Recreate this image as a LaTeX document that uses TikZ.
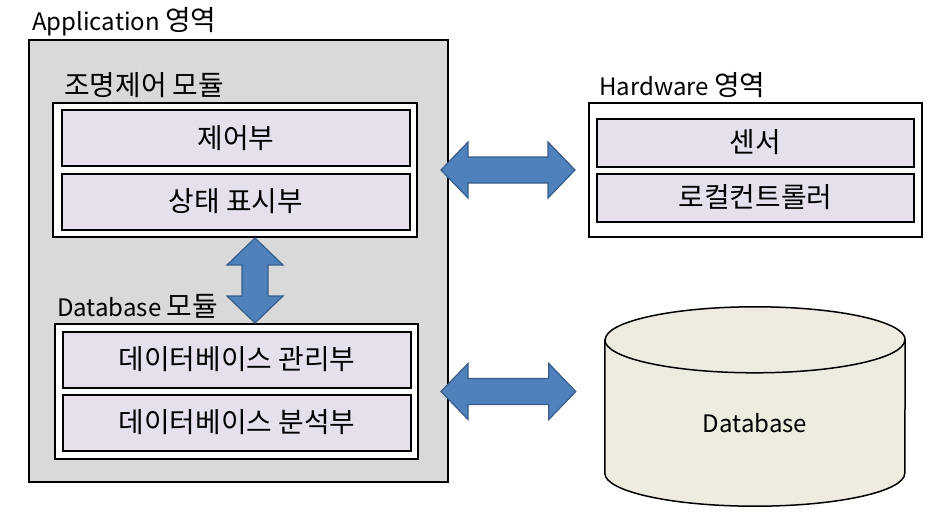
\documentclass[tikz,border=0pt]{standalone}
\usepackage{fontspec}
\setmainfont{Noto Sans CJK KR}
\newfontfamily\hangul{Noto Sans CJK KR}[Scale=1.16]
\usetikzlibrary{calc, backgrounds}
\definecolor{areagray}{HTML}{D9D9D9}
\definecolor{partfill}{HTML}{E5E0EC}
\definecolor{dbfill}{HTML}{EEECE1}
\definecolor{arrowblue}{HTML}{4F81BD}
\definecolor{arrowline}{HTML}{385D8A}

\begin{document}
\begin{tikzpicture}[x=1pt, y=-1pt, font=\fontsize{24}{28}\selectfont,
  box/.style 2 args={draw, line width=2pt, minimum width=#1, minimum height=#2, inner sep=0pt},
  part/.style={box={348}{56}, fill=partfill, font=\fontsize{24}{28}\selectfont\hangul},
  lbl/.style={anchor=west, inner sep=0pt},
  fatarrow/.style={draw=arrowline, fill=arrowblue, line width=1.2pt,
    to path={let \p1=(\tikztostart), \p2=(\tikztotarget),
      \n1={atan2(\y2-\y1,\x2-\x1)} in
      (\p1) -- ($(\p1)+(\n1:27pt)+(\n1+90:28pt)$)
      -- ($(\p1)+(\n1:27pt)+(\n1+90:13pt)$)
      -- ($(\p2)+(\n1+180:27pt)+(\n1+90:13pt)$)
      -- ($(\p2)+(\n1+180:27pt)+(\n1+90:28pt)$)
      -- (\p2)
      -- ($(\p2)+(\n1+180:27pt)+(\n1-90:28pt)$)
      -- ($(\p2)+(\n1+180:27pt)+(\n1-90:13pt)$)
      -- ($(\p1)+(\n1:27pt)+(\n1-90:13pt)$)
      -- ($(\p1)+(\n1:27pt)+(\n1-90:28pt)$)
      -- cycle}},
  dbend/.style={x radius=150pt, y radius=33pt}]
\useasboundingbox (0,0) rectangle (943,517);

\node[lbl] (applbl) at (32,22) {Application {\hangul 영역}};
\node[box={419}{442}, fill=areagray] (app) at (238.5,261) {};

\node[lbl, font=\fontsize{24}{28}\selectfont\hangul] (ctrllbl) at (64,85) {조명제어 모듈};
\node[box={364}{134}, fill=white] (ctrlmod) at (235,170) {};
\node[part] (ctrl) at (236,138) {제어부};
\node[part] (state) at (236,201.5) {상태 표시부};

\node[lbl] (dblbl) at (57,306) {Database {\hangul 모듈}};
\node[box={363}{135}, fill=white] (dbmod) at (236.5,391.5) {};
\node[part] (mgmt) at (237,359.5) {데이터베이스 관리부};
\node[part] (anal) at (237,422.5) {데이터베이스 분석부};

\node[lbl] (hwlbl) at (599,85) {Hardware {\hangul 영역}};
\node[box={333}{134}, fill=white] (hw) at (755.5,170) {};
\node[part, minimum width=317, minimum height=48] (sensor) at (755.5,142.5) {센서};
\node[part, minimum width=317, minimum height=48] (local) at (755.5,197.5) {로컬컨트롤러};

\node[minimum width=300, minimum height=166, inner sep=0pt] (db) at (755,423) {Database};
\begin{scope}[on background layer]
\draw[fill=dbfill, line width=1.5pt] (db.north west) -- ([yshift=33pt]db.south west)
  arc[start angle=180, end angle=360, dbend] -- (db.north east)
  arc[start angle=0, end angle=180, dbend] -- cycle;
\draw[line width=1.5pt] (db.north west) arc[start angle=180, end angle=360, dbend];
\end{scope}

\draw[fatarrow] ([xshift=-8pt]app.east |- ctrlmod.center) to ([xshift=-13pt]hw.west);
\draw[fatarrow] ([xshift=-8pt]app.east |- dbmod.center) to ([xshift=-29pt]db.west |- dbmod.center);
\draw[fatarrow] ([xshift=20pt]ctrlmod.south) to ([xshift=20pt]ctrlmod.south |- dbmod.north);
\end{tikzpicture}
\end{document}
